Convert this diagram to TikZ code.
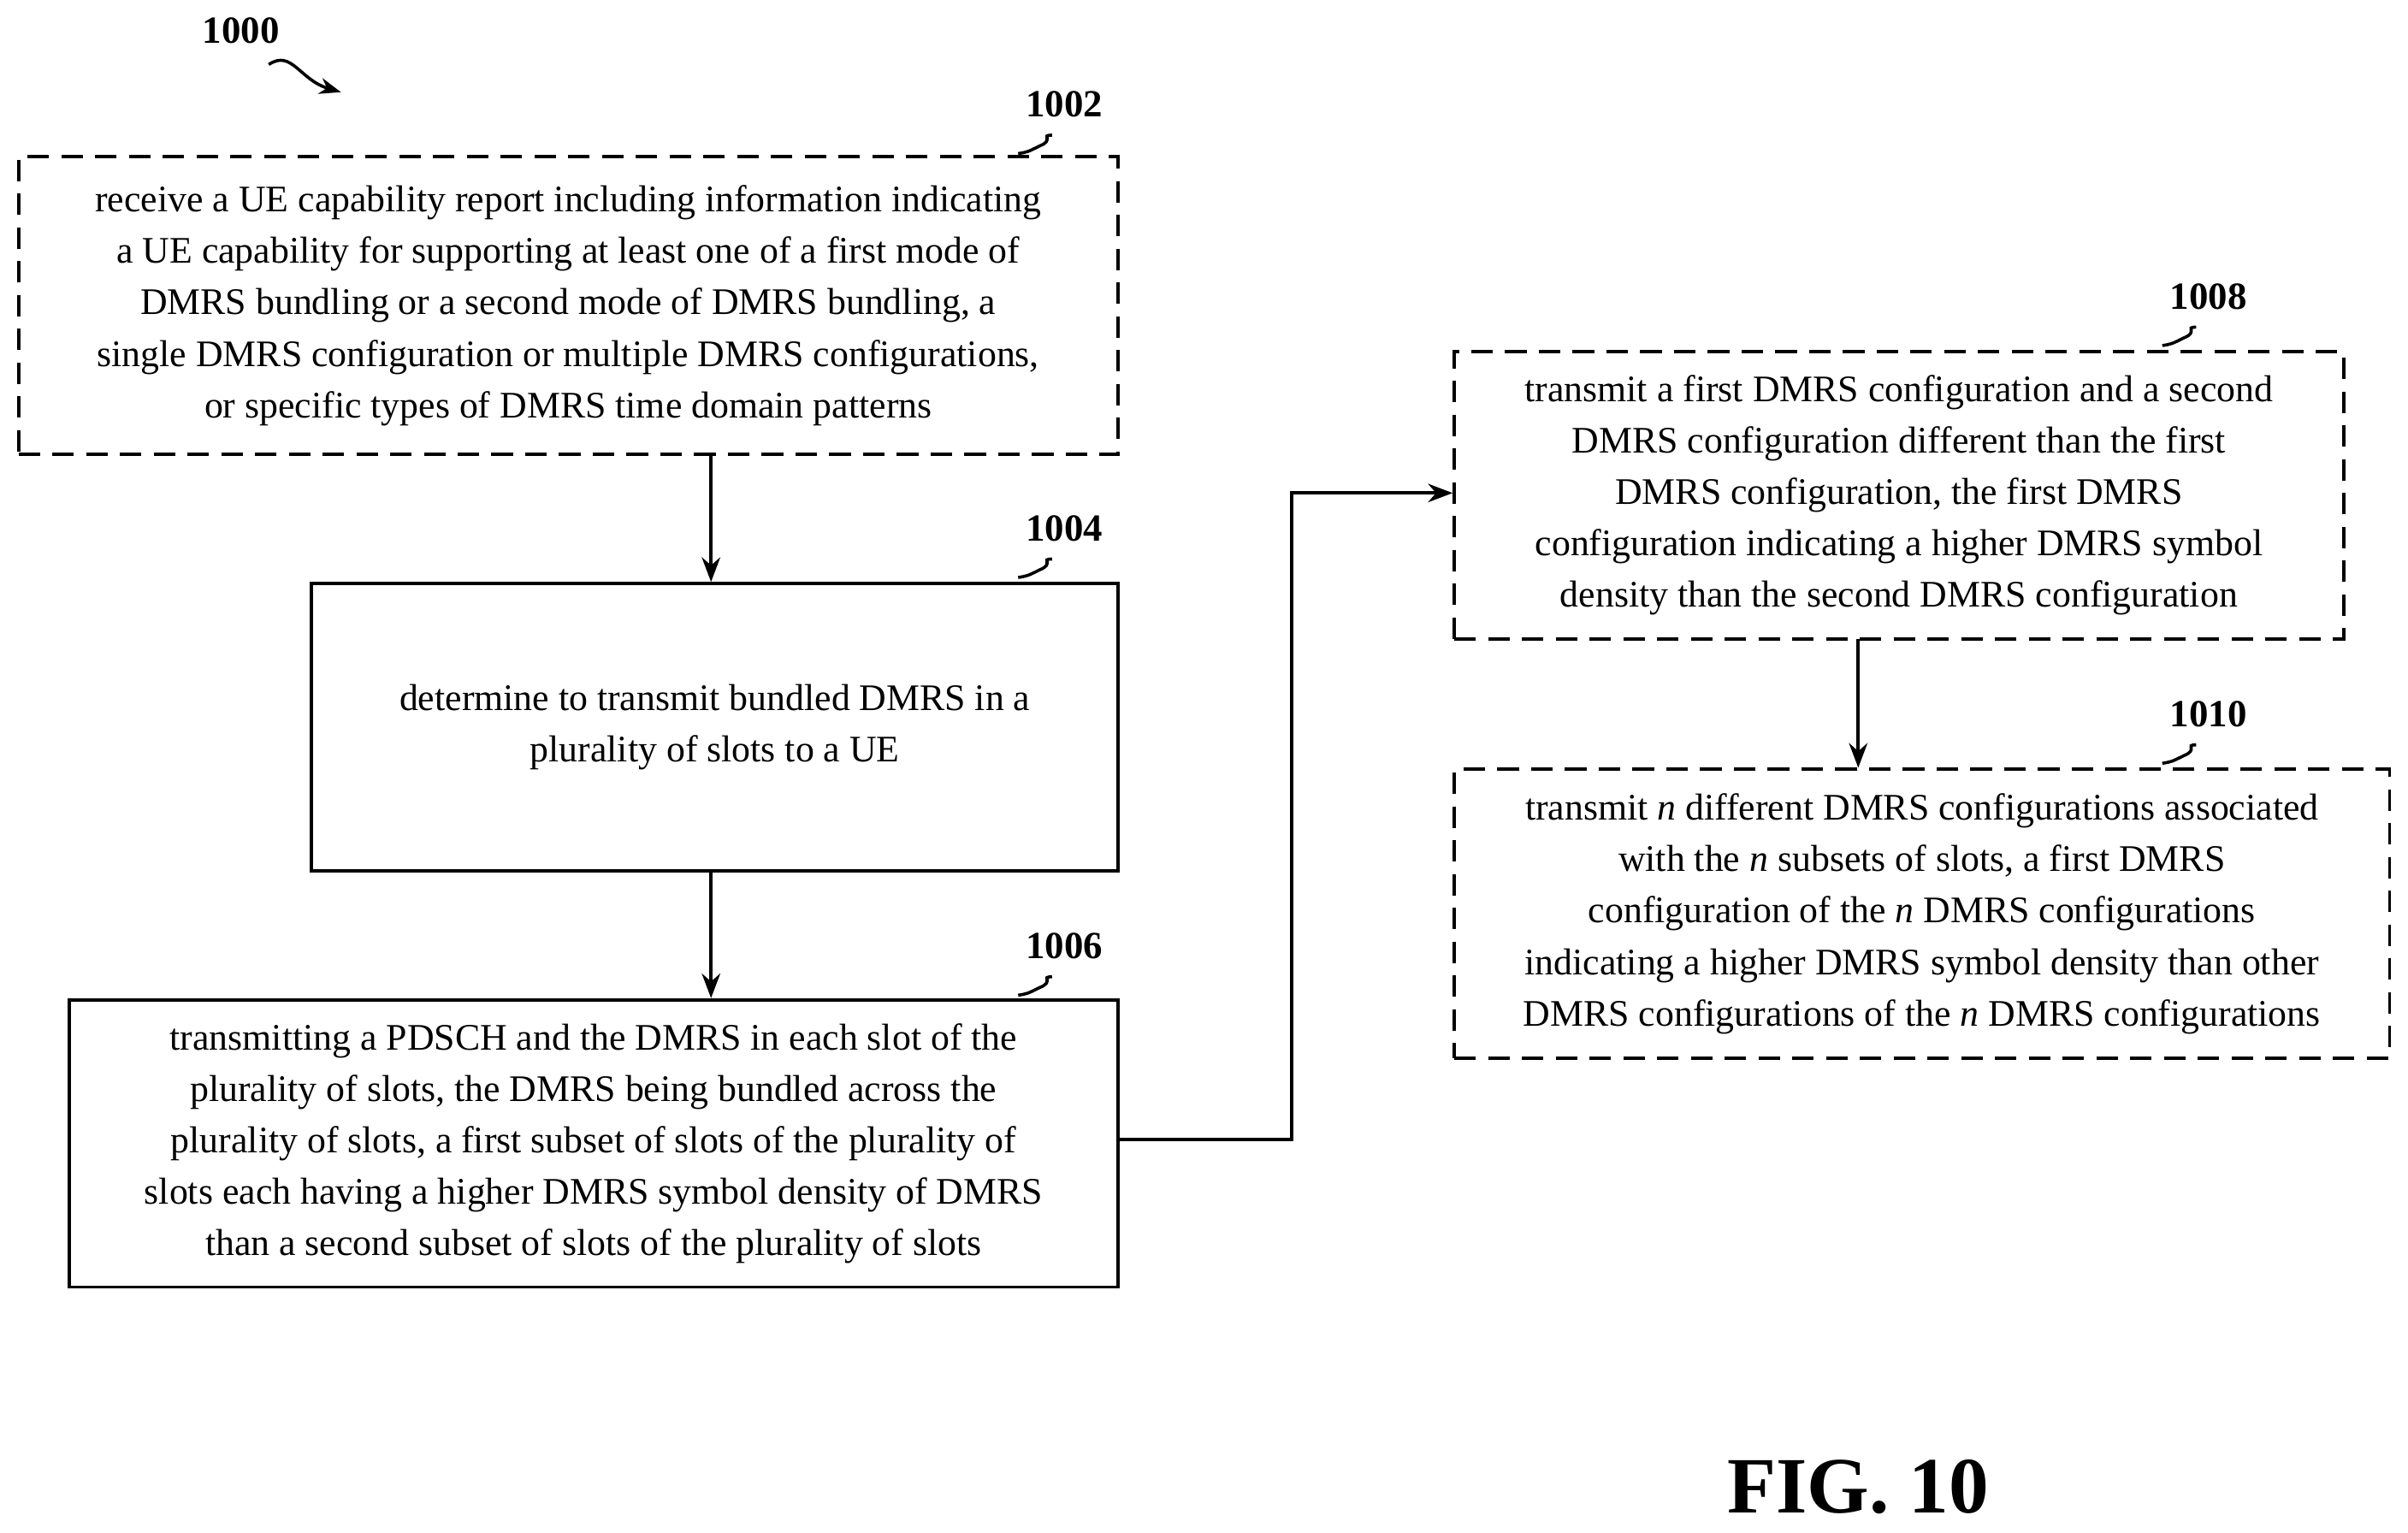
\documentclass[tikz,border=0pt]{standalone}
\usepackage{fontspec}
\setmainfont{Liberation Serif}
\usetikzlibrary{arrows.meta}
\begin{document}
\begin{tikzpicture}[x=0.5pt,y=-0.5pt,
 box/.style={draw,line width=1.1pt,inner sep=0pt,align=center,font=\fontsize{12.2}{16.75}\selectfont},
 dbox/.style={box,dash pattern=on 7pt off 4pt},
 arr/.style={-{Stealth[length=8pt,width=6pt]},line width=1.1pt},
 lab/.style={font=\bfseries\fontsize{12.5}{14}\selectfont},
 sq/.style={line width=1pt}]
\useasboundingbox (0,0) rectangle (1568,998);
\node[dbox,minimum width=358pt,minimum height=97pt] (b1) at (370,199) {receive a UE capability report including information indicating\\a UE capability for supporting at least one of a first mode of\\DMRS bundling or a second mode of DMRS bundling, a\\single DMRS configuration or multiple DMRS configurations,\\or specific types of DMRS time domain patterns};
\node[box,minimum width=262.5pt,minimum height=93.5pt] (b2) at (465.5,473.5) {determine to transmit bundled DMRS in a\\plurality of slots to a UE};
\node[box,minimum width=341.5pt,minimum height=93.5pt] (b3) at (386.5,744.5) {transmitting a PDSCH and the DMRS in each slot of the\\plurality of slots, the DMRS being bundled across the\\plurality of slots, a first subset of slots of the plurality of\\slots each having a higher DMRS symbol density of DMRS\\than a second subset of slots of the plurality of slots};
\node[dbox,minimum width=289.5pt,minimum height=93.5pt] (b4) at (1236.5,322.5) {transmit a first DMRS configuration and a second\\DMRS configuration different than the first\\DMRS configuration, the first DMRS\\configuration indicating a higher DMRS symbol\\density than the second DMRS configuration};
\node[dbox,minimum width=304.5pt,minimum height=94pt] (b5) at (1251.5,595) {transmit \textit{n} different DMRS configurations associated\\with the \textit{n} subsets of slots, a first DMRS\\configuration of the \textit{n} DMRS configurations\\indicating a higher DMRS symbol density than other\\DMRS configurations of the \textit{n} DMRS configurations};
\draw[arr] (b1.south -| b2.north) ++(-2.5,0) coordinate (s1) -- (s1 |- b2.north);
\draw[arr] (s1 |- b2.south) -- (s1 |- b3.north);
\coordinate (c1) at (841,742);
\coordinate (c2) at (841,321);
\draw[arr] (b3.east |- c1) -- (c1) -- (c2) -- (b4.west |- c2);
\draw[arr] (1210,416) coordinate (s2) -- (s2 |- b5.north);
\node[lab] (l0) at (157,20) {1000};
\node[lab] (l1) at (693,68) {1002};
\node[lab] (l2) at (693,344) {1004};
\node[lab] (l3) at (693,616) {1006};
\node[lab] (l4) at (1438,193) {1008};
\node[lab] (l5) at (1438,465) {1010};
\coordinate (q0) at (175,42);
\draw[sq,-{Stealth[length=7pt]}] (q0) .. controls (190,32) and (195,52) .. (222,60);
\foreach \n/\x/\y in {1/685/88,2/685/364,3/685/636,4/1430/213,5/1430/485}{
 \coordinate (p\n) at (\x,\y);
 \draw[sq] (p\n) .. controls ++(-8,0) and ++(10,-4) .. ++(-8,7) .. controls ++(-8,4) and ++(6,-1) .. ++(-14,5);}
\node[font=\bfseries\fontsize{26}{30}\selectfont] (fig) at (1210,968) {FIG. 10};
\end{tikzpicture}
\end{document}
